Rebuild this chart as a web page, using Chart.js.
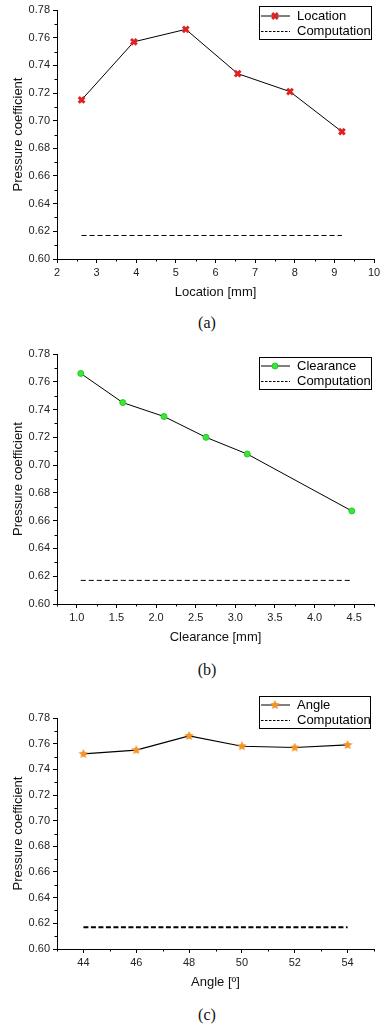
<!DOCTYPE html>
<html><head><meta charset="utf-8">
<script src="https://cdn.jsdelivr.net/npm/chart.js@4"></script>
<style>
body{margin:0;background:#fff;width:388px;height:1030px;position:relative;overflow:hidden;font-family:"Liberation Sans",Arial,sans-serif}
canvas{position:absolute;left:0}
.cap{position:absolute;width:60px;left:177px;text-align:center;font-family:"Liberation Serif","Times New Roman",serif;font-size:16px;line-height:18px;color:#111}
</style></head><body>
<canvas id="ca" width="388" height="300" style="top:0"></canvas>
<canvas id="cb" width="388" height="305" style="top:340px"></canvas>
<canvas id="cc" width="388" height="300" style="top:690px"></canvas>
<div class="cap" style="top:314px">(a)</div>
<div class="cap" style="top:661px">(b)</div>
<div class="cap" style="top:1006px">(c)</div>
<script>
// ---- data ----
const locationX = [2.62, 3.94, 5.25, 6.56, 7.88, 9.19];
const locationY = [0.715, 0.757, 0.766, 0.734, 0.721, 0.692];
const clearanceX = [1.05, 1.58, 2.10, 2.63, 3.15, 4.47];
const clearanceY = [0.766, 0.745, 0.735, 0.720, 0.708, 0.667];
const angleX = [44, 46, 48, 50, 52, 54];
const angleY = [0.752, 0.755, 0.766, 0.758, 0.757, 0.759];
const computationValue = 0.617;
const yTicks = [0.60, 0.62, 0.64, 0.66, 0.68, 0.70, 0.72, 0.74, 0.76, 0.78];
const locationTicks = [2, 3, 4, 5, 6, 7, 8, 9, 10];
const clearanceTicks = [1.0, 1.5, 2.0, 2.5, 3.0, 3.5, 4.0, 4.5];
const angleTicks = [44, 46, 48, 50, 52, 54];

// star image for the angle markers
function starImage(size, color){
  const c = document.createElement('canvas'); c.width = size; c.height = size;
  const g = c.getContext('2d'); const cx=size/2, cy=size/2, R=size/2, r=R*0.48;
  g.beginPath();
  for(let i=0;i<10;i++){const ang=-Math.PI/2+i*Math.PI/5; const rr=i%2?r:R; g.lineTo(cx+rr*Math.cos(ang), cy+rr*Math.sin(ang));}
  g.closePath(); g.fillStyle=color; g.fill(); return c;
}
const star = starImage(10, '#f39526');

function minors(ticks, min, max){
  const out=[]; const step=ticks[1]-ticks[0];
  if(ticks[0]-step/2>=min-1e-9) out.push(ticks[0]-step/2);
  for(let i=0;i<ticks.length-1;i++) out.push((ticks[i]+ticks[i+1])/2);
  const last=ticks[ticks.length-1];
  if(last+step/2<=max+1e-9) out.push(last+step/2);
  return out;
}

const decor = {
  id:'decor',
  afterDraw(chart, args, o){
    const ctx=chart.ctx, xs=chart.scales.x, ys=chart.scales.y, a=chart.chartArea;
    ctx.save(); ctx.strokeStyle='#000'; ctx.lineWidth=1; ctx.setLineDash([]);
    minors(o.xTicks, xs.min, xs.max).forEach(v=>{const px=Math.round(xs.getPixelForValue(v))+0.5; ctx.beginPath(); ctx.moveTo(px,a.bottom); ctx.lineTo(px,a.bottom+2.5); ctx.stroke();});
    minors(yTicks, ys.min, ys.max).forEach(v=>{const py=Math.round(ys.getPixelForValue(v))+0.5; ctx.beginPath(); ctx.moveTo(a.left,py); ctx.lineTo(a.left-2.5,py); ctx.stroke();});
    // legend
    const L=o.legend; const d0=chart.data.datasets[0], d1=chart.data.datasets[1];
    ctx.fillStyle='#fff'; ctx.fillRect(L.x,L.y,L.w,L.h);
    ctx.strokeStyle='#000'; ctx.lineWidth=1; ctx.strokeRect(L.x+0.5,L.y+0.5,L.w,L.h);
    const y1=L.y+L.r1, y2=L.y+L.r2;
    ctx.beginPath(); ctx.moveTo(L.x+2,y1); ctx.lineTo(L.x+31,y1); ctx.stroke();
    ctx.fillStyle=d0.pointBackgroundColor; ctx.strokeStyle=d0.pointBorderColor; ctx.lineWidth=d0.pointBorderWidth;
    Chart.helpers.drawPoint(ctx,{pointStyle:d0.pointStyle,rotation:0,borderWidth:d0.pointBorderWidth,radius:d0.pointRadius},L.x+16,y1);
    ctx.strokeStyle='#000'; ctx.lineWidth=1; ctx.setLineDash([2.5,1.5]);
    ctx.beginPath(); ctx.moveTo(L.x+2,y2+0.5); ctx.lineTo(L.x+31,y2+0.5); ctx.stroke(); ctx.setLineDash([]);
    ctx.fillStyle='#000'; ctx.font='13px "Liberation Sans", Arial, sans-serif'; ctx.textBaseline='middle'; ctx.textAlign='left';
    ctx.fillText(d0.label, L.x+38, y1); ctx.fillText(d1.label, L.x+38, y2);
    ctx.restore();
  }
};

function makeChart(id, cfg){
  const data0 = cfg.xs.map((x,i)=>({x, y:cfg.ys[i]}));
  const comp = cfg.xs.map(x=>({x, y:computationValue}));
  new Chart(document.getElementById(id), {
    type:'line',
    data:{datasets:[
      {label:cfg.label, data:data0, borderColor:'#000', borderWidth:cfg.lw, pointStyle:cfg.pointStyle, pointRadius:cfg.pr,
       pointBackgroundColor:cfg.pbg, pointBorderColor:cfg.pbc, pointBorderWidth:cfg.pbw, tension:0},
      {label:'Computation', data:comp, borderColor:'#000', borderWidth:cfg.cw, borderDash:cfg.dash, pointRadius:0, tension:0}
    ]},
    options:{
      responsive:false, animation:false, events:[],
      layout:{padding:{left:0, right:388-374, top:cfg.padTop, bottom:0}},
      plugins:{legend:{display:false}, tooltip:{enabled:false}, decor:{xTicks:cfg.xTicks, legend:cfg.legend}},
      scales:{
        x:{type:'linear', min:cfg.xmin, max:cfg.xmax,
          afterBuildTicks:s=>{s.ticks=cfg.xTicks.map(v=>({value:v}));},
          afterFit:s=>{s.height=41;},
          border:{display:true,color:'#000',width:1},
          grid:{drawOnChartArea:false, drawTicks:true, tickLength:4, color:'#000'},
          ticks:{autoSkip:false, maxRotation:0, padding:3, color:'#222', font:{family:'"Liberation Sans", Arial, sans-serif', size:11}, callback:v=>cfg.xfmt(v)},
          title:{display:true, text:cfg.xTitle, color:'#111', font:{family:'"Liberation Sans", Arial, sans-serif', size:13}, padding:{top:0,bottom:0}}
        },
        y:{type:'linear', min:0.60, max:0.78,
          afterBuildTicks:s=>{s.ticks=yTicks.map(v=>({value:v}));},
          afterFit:s=>{s.width=57;},
          border:{display:true,color:'#000',width:1},
          grid:{drawOnChartArea:false, drawTicks:true, tickLength:4, color:'#000'},
          ticks:{autoSkip:false, padding:3, color:'#222', font:{family:'"Liberation Sans", Arial, sans-serif', size:11}, callback:v=>v.toFixed(2)},
          title:{display:true, text:'Pressure coefficient', color:'#111', font:{family:'"Liberation Sans", Arial, sans-serif', size:13}, padding:{top:11,bottom:0}}
        }
      }
    },
    plugins:[decor]
  });
}

makeChart('ca', {xs:locationX, ys:locationY, label:'Location', lw:1, pointStyle:'crossRot', pr:4, pbg:'#dd2222', pbc:'#dd2222', pbw:3,
  cw:1, dash:[5,3], padTop:10, xmin:2, xmax:10, xTicks:locationTicks, xfmt:v=>String(v), xTitle:'Location [mm]',
  legend:{x:259,y:6,w:112,h:33,r1:10,r2:25}});
makeChart('cb', {xs:clearanceX, ys:clearanceY, label:'Clearance', lw:1, pointStyle:'circle', pr:3, pbg:'#3ae63a', pbc:'#22cc22', pbw:1,
  cw:1, dash:[5,3], padTop:14, xmin:0.75, xmax:4.75, xTicks:clearanceTicks, xfmt:v=>v.toFixed(1), xTitle:'Clearance [mm]',
  legend:{x:259,y:17,w:112,h:32,r1:9,r2:24}});
makeChart('cc', {xs:angleX, ys:angleY, label:'Angle', lw:1.2, pointStyle:star, pr:4, pbg:'#f39526', pbc:'#f39526', pbw:1,
  cw:2, dash:[5,2.5], padTop:28, xmin:43, xmax:55, xTicks:angleTicks, xfmt:v=>String(v), xTitle:'Angle [º]',
  legend:{x:259,y:6,w:111,h:32,r1:9,r2:24}});
</script>
</body></html>
